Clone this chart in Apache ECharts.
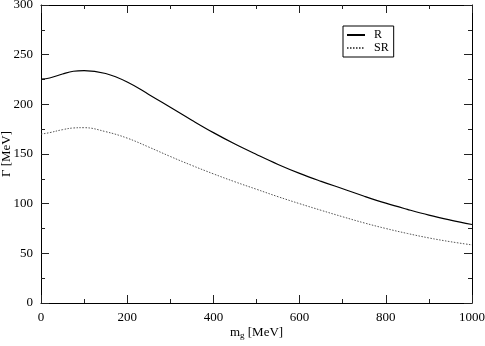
<!DOCTYPE html>
<html>
<head>
<meta charset="utf-8">
<script src="https://cdn.jsdelivr.net/npm/echarts@6/dist/echarts.min.js"></script>
<style>
  html, body { margin: 0; padding: 0; background: #fff; }
  #chart { width: 485px; height: 346px; }
</style>
</head>
<body>
<div id="chart"></div>
<script>
// values
var mgValues = [0, 20, 50, 75, 100, 150, 200, 250, 300, 350, 400, 450, 500, 550, 600, 650, 700, 750, 800, 850, 900, 950, 1000];
var rValues  = [225.5, 226.5, 230.5, 233.3, 234, 231, 222.5, 210, 197, 184, 171.5, 160, 149.5, 139.5, 130.5, 122.5, 115, 107.5, 100.5, 94.3, 88.5, 83.5, 79];
var srValues = [170, 171.5, 174.5, 176.2, 176.5, 172.5, 166, 157, 147.5, 138.5, 130, 122, 114.5, 107, 100, 93.3, 86.8, 80.6, 75, 70, 65.5, 61.7, 58.5];

function pairs(xs, ys) {
    return xs.map(function (x, i) { return [x, ys[i]]; });
}

var font = 'Liberation Serif';
var chart = echarts.init(document.getElementById('chart'));

function axisBase(show) {
    return {
        axisLine: { show: true, onZero: false, lineStyle: { color: '#000', width: 1 } },
        axisTick: { show: true, inside: true, length: 8, lineStyle: { color: '#222' } },
        minorTick: { show: true, splitNumber: 2, length: 4, lineStyle: { color: '#222' } },
        splitLine: { show: false },
        axisLabel: {
            show: show, color: '#000', fontFamily: font, fontSize: 13,
            formatter: function (v) { return String(v); }
        }
    };
}

var option = {
    animation: false,
    backgroundColor: '#fff',
    grid: { left: 41, right: 13, top: 5, bottom: 43, containLabel: false, outerBoundsMode: 'none' },
    legend: {
        left: 343, top: 26,
        orient: 'vertical',
        itemWidth: 18, itemHeight: 10, itemGap: 1,
        padding: [3, 5, 3, 3],
        borderColor: '#000', borderWidth: 1,
        itemStyle: { opacity: 0 },
        textStyle: { fontFamily: font, fontSize: 12, lineHeight: 11, color: '#000', padding: [0, 0, 0, 4] },
        data: ['R', 'SR']
    },
    xAxis: [
        Object.assign(axisBase(true), {
            type: 'value', min: 0, max: 1000, interval: 200, position: 'bottom',
            name: '{m|m}{s|g}{m| [MeV]}', nameLocation: 'middle', nameGap: 22, nameMoveOverlap: false,
            nameTextStyle: {
                rich: {
                    m: { fontFamily: font, fontSize: 13, color: '#000' },
                    s: { fontFamily: font, fontSize: 9, color: '#000', verticalAlign: 'bottom', padding: [6, 0, 0, 0] }
                }
            }
        }),
        Object.assign(axisBase(false), {
            type: 'value', min: 0, max: 1000, interval: 200, position: 'top'
        })
    ],
    yAxis: [
        Object.assign(axisBase(true), {
            type: 'value', min: 0, max: 300, interval: 50, position: 'left',
            name: 'Γ [MeV]', nameLocation: 'middle', nameGap: 28, nameMoveOverlap: false,
            nameTextStyle: { fontFamily: font, fontSize: 13, color: '#000' }
        }),
        Object.assign(axisBase(false), {
            type: 'value', min: 0, max: 300, interval: 50, position: 'right'
        })
    ],
    series: [
        {
            name: 'R', type: 'line', smooth: 0.4, symbol: 'none',
            lineStyle: { color: '#000', width: 1.2 },
            itemStyle: { color: '#000' },
            data: pairs(mgValues, rValues)
        },
        {
            name: 'SR', type: 'line', smooth: 0.4, symbol: 'none',
            lineStyle: { color: '#555', width: 1, type: [1.5, 1.5] },
            itemStyle: { color: '#555' },
            data: pairs(mgValues, srValues)
        },
        {
            // keeps the top and right frame axes alive
            type: 'line', xAxisIndex: 1, yAxisIndex: 1, symbol: 'none', silent: true,
            lineStyle: { opacity: 0 }, data: []
        }
    ]
};
chart.setOption(option);
</script>
</body>
</html>
